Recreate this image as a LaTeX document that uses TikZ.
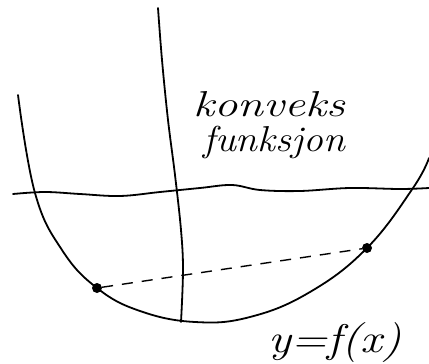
\documentclass[tikz,border=0pt]{standalone}
\begin{document}
\begin{tikzpicture}[x=1pt,y=-1pt,
  ink/.style={line width=1.8pt,line cap=round,line join=round},
  dot/.style={circle,fill=black,inner sep=0pt,minimum size=10pt},
  hand/.style={font=\fontsize{36}{38}\selectfont\itshape,inner sep=0pt,anchor=west}]
\useasboundingbox (0,0) rectangle (429,364);
% horizontal axis (wavy)
\draw[ink] plot[smooth,tension=0.6] coordinates {(13,194) (45,192) (80,194) (120,196) (160,192) (200,188) (232,185) (260,190) (300,191) (350,188) (400,189) (429,188)};
% vertical axis
\draw[ink] plot[smooth,tension=0.6] coordinates {(158,8) (162,60) (168,120) (175,175) (181,230) (183,270) (181,322)};
% convex curve
\draw[ink] plot[smooth,tension=0.7] coordinates {(18,95) (35,193) (62,250) (97,288) (140,311) (195,322) (250,317) (310,292) (367,248) (413,188) (429,158)};
% points
\node[dot] (p1) at (97,288) {};
\node[dot] (p2) at (367,248) {};
\draw[line width=1.4pt,dash pattern=on 11pt off 9pt] (p1) -- (p2);
% labels
\node[hand,xscale=1.3] (t1) at (193,104) {konveks};
\node[hand,xscale=1.1] (t2) at (203,142) {funksjon};
\node[hand,font=\fontsize{40}{42}\selectfont\itshape,xscale=1.2] (t3) at (268,343) {y=f(x)};
\end{tikzpicture}
\end{document}
